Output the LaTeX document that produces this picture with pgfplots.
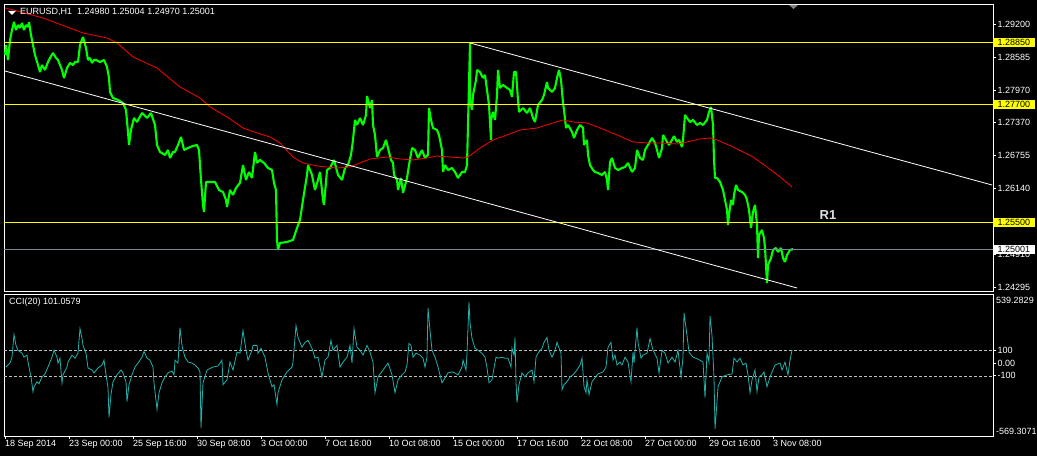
\documentclass[border=0pt]{standalone}
\usepackage{pgfplots}
\pgfplotsset{compat=1.18}
\usepackage{fontspec}
\setmainfont{Liberation Sans}
\definecolor{mtgreen}{RGB}{0,255,0}
\definecolor{ccicol}{RGB}{32,178,170}
\definecolor{slate}{RGB}{119,136,153}
\definecolor{mtyellow}{RGB}{255,255,0}
\pgfplotsset{
  mtbase/.style={
    scale only axis, xmin=4, xmax=993, clip mode=individual,
    axis line style={white, line width=0.8bp},
    tick style={white, line width=0.8bp},
    tick align=outside, major tick length=3bp,
    ticklabel style={text=white, font=\fontsize{9bp}{10bp}\selectfont},
    ytick pos=right, yticklabel pos=right,
    yticklabel style={anchor=west, inner sep=1.5bp},
  }
}
\begin{document}
\fontsize{9bp}{10bp}\selectfont
\begin{tikzpicture}[x=1bp,y=1bp]
\fill[black] (0,0) rectangle (1037,456);
\useasboundingbox (0,0) rectangle (1037,456);
% ---------------- price panel ----------------
\begin{axis}[mtbase, at={(4bp,165bp)}, anchor=south west, width=989bp, height=287bp,
  ymin=1.24220, ymax=1.29573, xtick=\empty,
  ytick={1.24295,1.24910,1.26140,1.26755,1.27370,1.27970,1.28585,1.29200},
  yticklabels={1.24295,1.24910,1.26140,1.26755,1.27370,1.27970,1.28585,1.29200}]
% price (H1 bars, traced)
\addplot[mtgreen, line width=2.1bp, line join=bevel] coordinates {
(5,1.28622)(6,1.28808)(8,1.28529)(10,1.28902)(12,1.29088)(14,1.29237)(16,1.29088)(18,1.29181)
(20,1.29125)(22,1.29219)(24,1.29088)(26,1.29181)(28,1.29144)(29,1.29237)(31,1.28995)(32,1.28902)
(35,1.28622)(38,1.28435)(40,1.28305)(42,1.28435)(45,1.28342)(48,1.28491)(50,1.28566)(53,1.28659)
(56,1.28566)(58,1.28529)(62,1.28342)(64,1.28193)(67,1.28379)(70,1.28473)(73,1.28435)(75,1.28491)
(78,1.28491)(80,1.28808)(83,1.28958)(86,1.28752)(88,1.28529)(90,1.28566)(92,1.28473)(94,1.28529)
(96,1.28529)(100,1.28491)(104,1.28529)(107,1.28398)(109,1.28193)(110,1.27932)(113,1.27820)
(118,1.27783)(123,1.27727)(126,1.27596)(128,1.27186)(129,1.26943)(131,1.27223)(134,1.27447)
(137,1.27372)(142,1.27540)(147,1.27447)(151,1.27540)(155,1.27316)(157,1.26943)(160,1.26813)
(165,1.26757)(168,1.26850)(170,1.26701)(173,1.26813)(175,1.26813)(178,1.26943)(181,1.27093)
(184,1.26850)(188,1.26887)(193,1.26925)(197,1.26943)(199,1.26850)(201,1.26291)(203,1.25824)
(204,1.25694)(206,1.26253)(210,1.26253)(215,1.26253)(219,1.26104)(223,1.26067)(226,1.25918)
(227,1.25787)(230,1.26104)(233,1.26011)(236,1.26141)(240,1.26235)(243,1.26570)(246,1.26291)
(249,1.26440)(252,1.26328)(255,1.26813)(257,1.26608)(260,1.26664)(264,1.26608)(268,1.26514)
(272,1.26477)(274,1.26235)(276,1.26104)(277,1.25172)(278,1.24985)(280,1.25116)(287,1.25134)
(293,1.25172)(297,1.25395)(300,1.25545)(303,1.25918)(307,1.26384)(308,1.26570)(312,1.26384)
(315,1.26104)(318,1.26291)(320,1.26440)(323,1.25918)(324,1.25824)(327,1.26477)(330,1.26514)
(334,1.26664)(338,1.26384)(342,1.26291)(345,1.26514)(348,1.26570)(351,1.26757)(353,1.27037)
(355,1.27410)(357,1.27316)(360,1.27447)(363,1.27316)(366,1.27503)(367,1.27857)(370,1.27633)
(372,1.27783)(373,1.27316)(375,1.27130)(377,1.26719)(380,1.26850)(383,1.26887)(386,1.27037)
(388,1.26887)(391,1.26664)(393,1.26608)(394,1.26384)(397,1.26291)(398,1.26104)(401,1.26328)
(403,1.26048)(407,1.26328)(409,1.26570)(412,1.26887)(415,1.26850)(418,1.26701)(422,1.26850)
(425,1.26701)(428,1.26757)(429,1.27633)(431,1.27410)(433,1.27260)(437,1.27223)(439,1.27130)
(442,1.26850)(443,1.26440)(445,1.26570)(448,1.26477)(452,1.26514)(455,1.26440)(458,1.26328)
(462,1.26440)(465,1.26440)(467,1.26570)(468,1.27316)(470,1.28846)(470,1.27783)(472,1.27596)
(473,1.27876)(476,1.28156)(477,1.28342)(480,1.28305)(483,1.28193)(485,1.28249)(487,1.27969)
(489,1.27689)(491,1.27037)(491,1.27410)(493,1.27559)(495,1.27410)(497,1.27876)(498,1.28342)
(500,1.28006)(503,1.28062)(507,1.28006)(510,1.27969)(512,1.27839)(514,1.28305)(516,1.28305)
(518,1.27783)(519,1.27559)(523,1.27633)(527,1.27540)(530,1.27633)(533,1.27447)(535,1.27372)
(538,1.27689)(542,1.27783)(544,1.27876)(547,1.28118)(548,1.28006)(552,1.27932)(555,1.28006)
(557,1.28193)(559,1.28342)(561,1.28156)(563,1.27727)(564,1.27596)(566,1.27260)(568,1.27316)
(572,1.27186)(574,1.27074)(577,1.27223)(580,1.27316)(583,1.27260)(584,1.26943)(587,1.27037)
(588,1.26757)(590,1.26570)(593,1.26477)(595,1.26440)(598,1.26421)(602,1.26384)(605,1.26440)
(607,1.26291)(608,1.26104)(610,1.26626)(612,1.26701)(615,1.26514)(618,1.26477)(622,1.26514)
(625,1.26533)(628,1.26608)(632,1.26440)(635,1.26514)(637,1.26850)(640,1.26701)(643,1.26664)
(645,1.26850)(648,1.26943)(652,1.27074)(655,1.26981)(657,1.26850)(659,1.26701)(662,1.26887)
(663,1.27130)(667,1.27000)(669,1.26943)(672,1.27037)(674,1.27111)(677,1.27000)(679,1.27037)
(682,1.26906)(683,1.27037)(685,1.27503)(687,1.27447)(690,1.27372)(693,1.27410)(697,1.27316)
(700,1.27354)(703,1.27316)(707,1.27410)(709,1.27559)(711,1.27652)(713,1.27316)(714,1.26664)
(715,1.26328)(717,1.26328)(720,1.26253)(723,1.26104)(725,1.25918)(727,1.25731)(728,1.25451)
(729,1.25638)(731,1.25918)(733,1.25824)(734,1.26011)(736,1.26197)(738,1.26104)(742,1.26067)
(745,1.26011)(747,1.25918)(749,1.25731)(751,1.25395)(752,1.25545)(753,1.25694)(755,1.25824)
(757,1.25451)(758,1.24836)(759,1.25265)(762,1.25358)(764,1.25209)(765,1.25022)(767,1.24370)
(768,1.24705)(771,1.24836)(773,1.24985)(776,1.25022)(778,1.24948)(781,1.25022)(783,1.24836)
(785,1.24761)(787,1.24892)(790,1.24985)(793,1.25001)};
% moving average
\addplot[red, line width=0.8bp] coordinates {
(5,1.29498)(13,1.29461)(32,1.29368)(43,1.29312)(83,1.29032)(107,1.28939)(117,1.28846)
(133,1.28585)(157,1.28379)(180,1.28025)(200,1.27820)(210,1.27652)(227,1.27466)(243,1.27260)
(257,1.27167)(270,1.27093)(280,1.26981)(293,1.26719)(303,1.26608)(317,1.26552)(337,1.26514)
(350,1.26533)(360,1.26608)(370,1.26682)(387,1.26719)(400,1.26682)(413,1.26664)(427,1.26701)
(437,1.26738)(450,1.26719)(463,1.26701)(468,1.26719)(480,1.26887)(493,1.27037)(507,1.27130)
(520,1.27223)(537,1.27260)(553,1.27354)(563,1.27410)(573,1.27372)(587,1.27354)(600,1.27260)
(617,1.27130)(633,1.27000)(647,1.26981)(660,1.26981)(677,1.26962)(687,1.27000)(700,1.27055)
(710,1.27074)(717,1.27037)(733,1.26906)(753,1.26719)(767,1.26533)(780,1.26347)(792,1.26160)};
% horizontal levels
\addplot[mtyellow, line width=0.8bp] coordinates {(4,1.28850)(993,1.28850)};
\addplot[mtyellow, line width=0.8bp] coordinates {(4,1.27700)(993,1.27700)};
\addplot[mtyellow, line width=0.8bp] coordinates {(4,1.25500)(993,1.25500)};
\addplot[slate, line width=0.8bp] coordinates {(4,1.25001)(993,1.25001)};
% channel lines
\addplot[white, line width=0.8bp] coordinates {(5,1.28323)(797,1.24276)};
\addplot[white, line width=0.8bp] coordinates {(470,1.28846)(992,1.26197)};
% labels
\node[text=white!88!black, font=\bfseries\fontsize{13bp}{14bp}\selectfont] at (axis cs:828,1.25638) {R1};
\node[fill=mtyellow, text=black, anchor=west, inner xsep=4.5bp, inner ysep=1.2bp, font=\fontsize{9bp}{10bp}\selectfont] at (axis cs:993,1.28850) {1.28850};
\node[fill=mtyellow, text=black, anchor=west, inner xsep=4.5bp, inner ysep=1.2bp, font=\fontsize{9bp}{10bp}\selectfont] at (axis cs:993,1.27700) {1.27700};
\node[fill=mtyellow, text=black, anchor=west, inner xsep=4.5bp, inner ysep=1.2bp, font=\fontsize{9bp}{10bp}\selectfont] at (axis cs:993,1.25500) {1.25500};
\node[fill=white, text=black, anchor=west, inner xsep=4.5bp, inner ysep=1.2bp, font=\fontsize{9bp}{10bp}\selectfont] at (axis cs:993,1.25001) {1.25001};
\end{axis}
% ---------------- CCI panel ----------------
\begin{axis}[mtbase, at={(4bp,20bp)}, anchor=south west, width=989bp, height=142bp,
  ymin=-569.3071, ymax=539.2829,
  ytick={-100,0,100}, yticklabels={-100,0.00,100},
  xtick pos=bottom,
  xtick={5,69,133,197,261,325,389,453,517,581,645,709,773},
  xticklabels={18 Sep 2014,23 Sep 00:00,25 Sep 16:00,30 Sep 08:00,3 Oct 00:00,7 Oct 16:00,10 Oct 08:00,15 Oct 00:00,17 Oct 16:00,22 Oct 08:00,27 Oct 00:00,29 Oct 16:00,3 Nov 08:00},
  xticklabel style={anchor=north west, inner xsep=0pt, inner ysep=1pt}]
\addplot[white!75!black, line width=0.7bp, dash pattern=on 3bp off 2bp] coordinates {(4,100)(993,100)};
\addplot[white!75!black, line width=0.7bp, dash pattern=on 3bp off 2bp] coordinates {(4,-100)(993,-100)};
\addplot[ccicol, line width=0.8bp] coordinates {
(6,-31)(10,0)(12,46)(14,223)(16,138)(18,100)(22,77)(24,46)(27,62)(28,8)(31,-108)(33,-223)(34,-185)
(37,-146)(39,-162)(42,-108)(45,-85)(48,-31)(52,46)(54,100)(57,46)(58,0)(60,38)(62,-154)(63,-92)
(67,-31)(68,8)(72,62)(75,38)(78,77)(80,269)(82,192)(83,138)(86,77)(88,-38)(92,-54)(94,-77)(98,-38)
(102,-15)(104,23)(106,-92)(108,-192)(109,-423)(111,-246)(113,-146)(117,-92)(121,-54)(123,-77)
(126,-146)(127,-300)(129,-169)(132,-92)(135,-31)(138,0)(142,46)(144,92)(147,38)(150,23)(153,-31)
(154,-154)(157,-361)(159,-231)(162,-154)(165,-108)(168,-77)(172,-62)(174,-92)(175,23)(178,0)
(180,277)(182,138)(183,100)(185,46)(188,8)(192,0)(195,-15)(198,-38)(200,-69)(201,-508)(203,-154)
(207,-54)(213,-31)(218,-23)(222,23)(223,-169)(227,-131)(230,8)(233,-54)(237,85)(240,77)(243,254)
(246,100)(248,23)(252,100)(253,138)(257,138)(258,77)(261,115)(265,46)(268,-77)(272,-185)(274,-169)
(277,-323)(278,-231)(282,-131)(287,-69)(292,-31)(293,8)(296,292)(298,200)(302,123)(305,162)
(308,177)(312,115)(315,38)(318,46)(322,-108)(325,23)(328,46)(331,177)(333,100)(337,138)(340,-31)
(343,8)(347,46)(350,138)(352,0)(354,269)(357,123)(360,100)(363,62)(367,138)(370,85)(373,8)
(375,-231)(378,-108)(383,-54)(388,0)(392,-92)(395,-231)(398,-131)(402,-92)(405,-69)(407,-15)
(409,154)(411,138)(413,46)(416,77)(420,62)(423,38)(425,-31)(427,46)(428,431)(430,254)(432,100)
(435,46)(438,-31)(442,-154)(445,-115)(448,-77)(452,-69)(455,-77)(458,-92)(462,-31)(463,23)
(466,-54)(467,77)(469,477)(470,315)(472,192)(475,115)(478,100)(482,77)(485,46)(487,-38)(489,-154)
(492,-131)(494,-38)(496,46)(498,38)(502,46)(505,38)(508,38)(511,-31)(512,115)(514,62)(515,200)
(516,-154)(517,-308)(519,-169)(522,-77)(525,-108)(528,-77)(532,-54)(534,-146)(536,46)(538,77)
(542,115)(544,162)(547,200)(549,100)(552,46)(555,100)(557,162)(558,138)(561,77)(562,-208)
(564,-169)(567,-146)(570,-108)(573,-92)(577,-54)(580,-15)(582,38)(584,-185)(586,-231)(587,-131)
(589,-246)(592,-146)(595,-115)(598,-85)(603,-69)(606,-31)(608,123)(611,162)(613,23)(615,62)
(617,-15)(620,8)(622,-15)(625,46)(628,8)(631,-146)(633,85)(634,0)(637,277)(638,162)(641,38)
(643,62)(647,77)(650,192)(653,100)(657,38)(659,-77)(662,100)(665,77)(668,0)(672,46)(675,8)
(678,100)(681,-108)(683,46)(684,392)(687,215)(689,85)(693,46)(698,31)(703,8)(705,-269)(707,77)
(709,8)(710,369)(712,215)(714,-115)(715,-515)(717,-300)(718,-185)(722,-108)(727,-92)(732,-85)
(734,38)(737,8)(740,38)(743,-15)(746,0)(748,-92)(750,-231)(752,-131)(755,-54)(757,-223)(759,-108)
(762,-92)(764,-69)(767,-185)(770,-108)(775,-15)(780,0)(782,-54)(785,8)(788,-92)(790,23)(792,101)};
\node[anchor=north west, text=white, inner sep=1bp, font=\fontsize{9bp}{10bp}\selectfont] at ([xshift=2bp,yshift=-2bp]rel axis cs:1,1) {539.2829};
\node[anchor=south west, text=white, inner sep=1bp, font=\fontsize{9bp}{10bp}\selectfont] at ([xshift=2bp]rel axis cs:1,0) {-569.3071};
\end{axis}
% chart decorations
\fill[white] (8,445) -- (16,445) -- (12,441) -- cycle;
\node[anchor=west, text=white, inner sep=0pt, font=\fontsize{9bp}{10bp}\selectfont] at (20,444) {EURUSD,H1\ \ 1.24980 1.25004 1.24970 1.25001};
\node[anchor=west, text=white, inner sep=0pt, font=\fontsize{9bp}{10bp}\selectfont] at (9,154) {CCI(20) 101.0579};
\fill[gray] (789,451) -- (798,451) -- (793.5,447) -- cycle;
\end{tikzpicture}
\end{document}
